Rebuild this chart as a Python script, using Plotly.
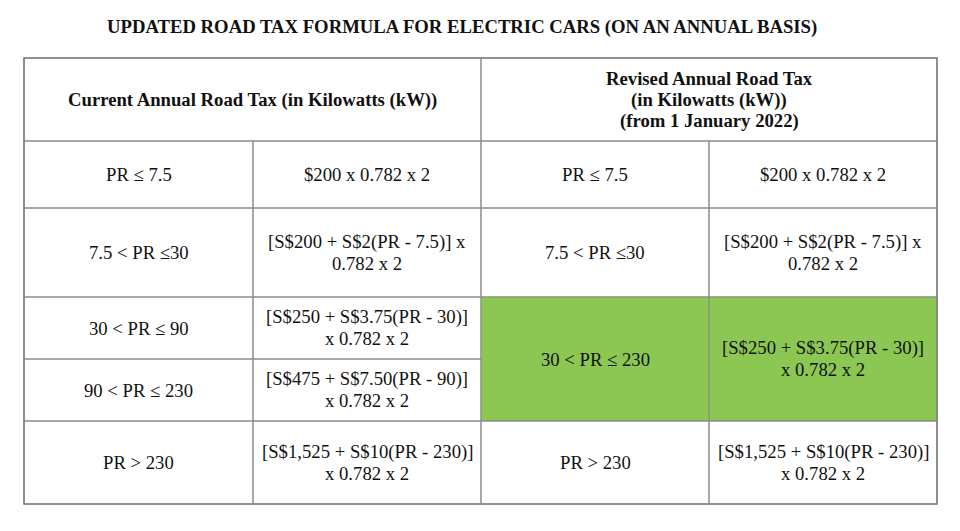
import plotly.graph_objects as go

# ---------------- data ----------------
title = "UPDATED ROAD TAX FORMULA FOR ELECTRIC CARS (ON AN ANNUAL BASIS)"
header_current = ["Current Annual Road Tax (in Kilowatts (kW))"]
header_revised = ["Revised Annual Road Tax", "(in Kilowatts (kW))", "(from 1 January 2022)"]

current_bands = ["PR ≤ 7.5", "7.5 < PR ≤30", "30 < PR ≤ 90", "90 < PR ≤ 230", "PR > 230"]
current_formulas = [
    ["$200 x 0.782 x 2"],
    ["[S$200 + S$2(PR - 7.5)] x", "0.782 x 2"],
    ["[S$250 + S$3.75(PR - 30)]", "x 0.782 x 2"],
    ["[S$475 + S$7.50(PR - 90)]", "x 0.782 x 2"],
    ["[S$1,525 + S$10(PR - 230)]", "x 0.782 x 2"],
]

revised_bands = ["PR ≤ 7.5", "7.5 < PR ≤30", "30 < PR ≤ 230", "PR > 230"]
revised_formulas = [
    ["$200 x 0.782 x 2"],
    ["[S$200 + S$2(PR - 7.5)] x", "0.782 x 2"],
    ["[S$250 + S$3.75(PR - 30)]", "x 0.782 x 2"],
    ["[S$1,525 + S$10(PR - 230)]", "x 0.782 x 2"],
]
revised_row_spans = [1, 1, 2, 1]
revised_highlight = [False, False, True, False]

# ---------------- layout geometry ----------------
W, H = 960, 531
OFF = 8  # page body margin in the browser
col_edges = [24, 253, 481, 709, 937]
row_edges = [58, 141, 208, 297, 359, 421, 504]
FONT = "Liberation Serif, Times New Roman, serif"
BODY_SIZE = 18.7
HEAD_SIZE = 18.7
LINE_GAP = 21.5
HEAD_GAP = 21.5
GREEN = "#8BC752"
GRID = "#8a8a8a"
TEXT = "#111111"

fig = go.Figure()
shapes = []
annotations = []


def add_cell(x0, x1, y0, y1, lines, bold=False, fill=None, gap=LINE_GAP, size=BODY_SIZE):
    shapes.append(dict(type="rect", xref="x", yref="y", x0=x0, x1=x1, y0=y0, y1=y1,
                       line=dict(color=GRID, width=1),
                       fillcolor=fill if fill else "rgba(0,0,0,0)", layer="below"))
    cy = (y0 + y1) / 2
    n = len(lines)
    for i, t in enumerate(lines):
        txt = f"<b>{t}</b>" if bold else t
        annotations.append(dict(x=(x0 + x1) / 2, y=cy + (i - (n - 1) / 2) * gap,
                                xref="x", yref="y", text=txt, showarrow=False,
                                xanchor="center", yanchor="middle",
                                font=dict(family=FONT, size=size, color=TEXT)))


# header
add_cell(col_edges[0], col_edges[2], row_edges[0], row_edges[1], header_current, bold=True,
         size=HEAD_SIZE)
add_cell(col_edges[2], col_edges[4], row_edges[0], row_edges[1], header_revised, bold=True,
         gap=HEAD_GAP, size=HEAD_SIZE)

# current side
for r, (band, form) in enumerate(zip(current_bands, current_formulas)):
    y0, y1 = row_edges[r + 1], row_edges[r + 2]
    add_cell(col_edges[0], col_edges[1], y0, y1, [band])
    add_cell(col_edges[1], col_edges[2], y0, y1, form)

# revised side
r = 0
for band, form, span, hl in zip(revised_bands, revised_formulas, revised_row_spans, revised_highlight):
    y0, y1 = row_edges[r + 1], row_edges[r + 1 + span]
    fill = GREEN if hl else None
    add_cell(col_edges[2], col_edges[3], y0, y1, [band], fill=fill)
    add_cell(col_edges[3], col_edges[4], y0, y1, form, fill=fill)
    r += span

# outer border
shapes.append(dict(type="rect", xref="x", yref="y", x0=col_edges[0], x1=col_edges[-1],
                   y0=row_edges[0], y1=row_edges[-1], line=dict(color="#808080", width=1.6),
                   fillcolor="rgba(0,0,0,0)", layer="above"))

annotations.append(dict(x=462, y=27, xref="x", yref="y", text=f"<b>{title}</b>", showarrow=False,
                        xanchor="center", yanchor="middle",
                        font=dict(family=FONT, size=HEAD_SIZE, color=TEXT)))

fig.update_layout(
    width=W, height=H, margin=dict(l=0, r=0, t=0, b=0),
    paper_bgcolor="white", plot_bgcolor="white",
    xaxis=dict(range=[OFF, W + OFF], visible=False, fixedrange=True),
    yaxis=dict(range=[H + OFF, OFF], visible=False, fixedrange=True),
    shapes=shapes, annotations=annotations, showlegend=False,
)

fig.write_html("out.html")
